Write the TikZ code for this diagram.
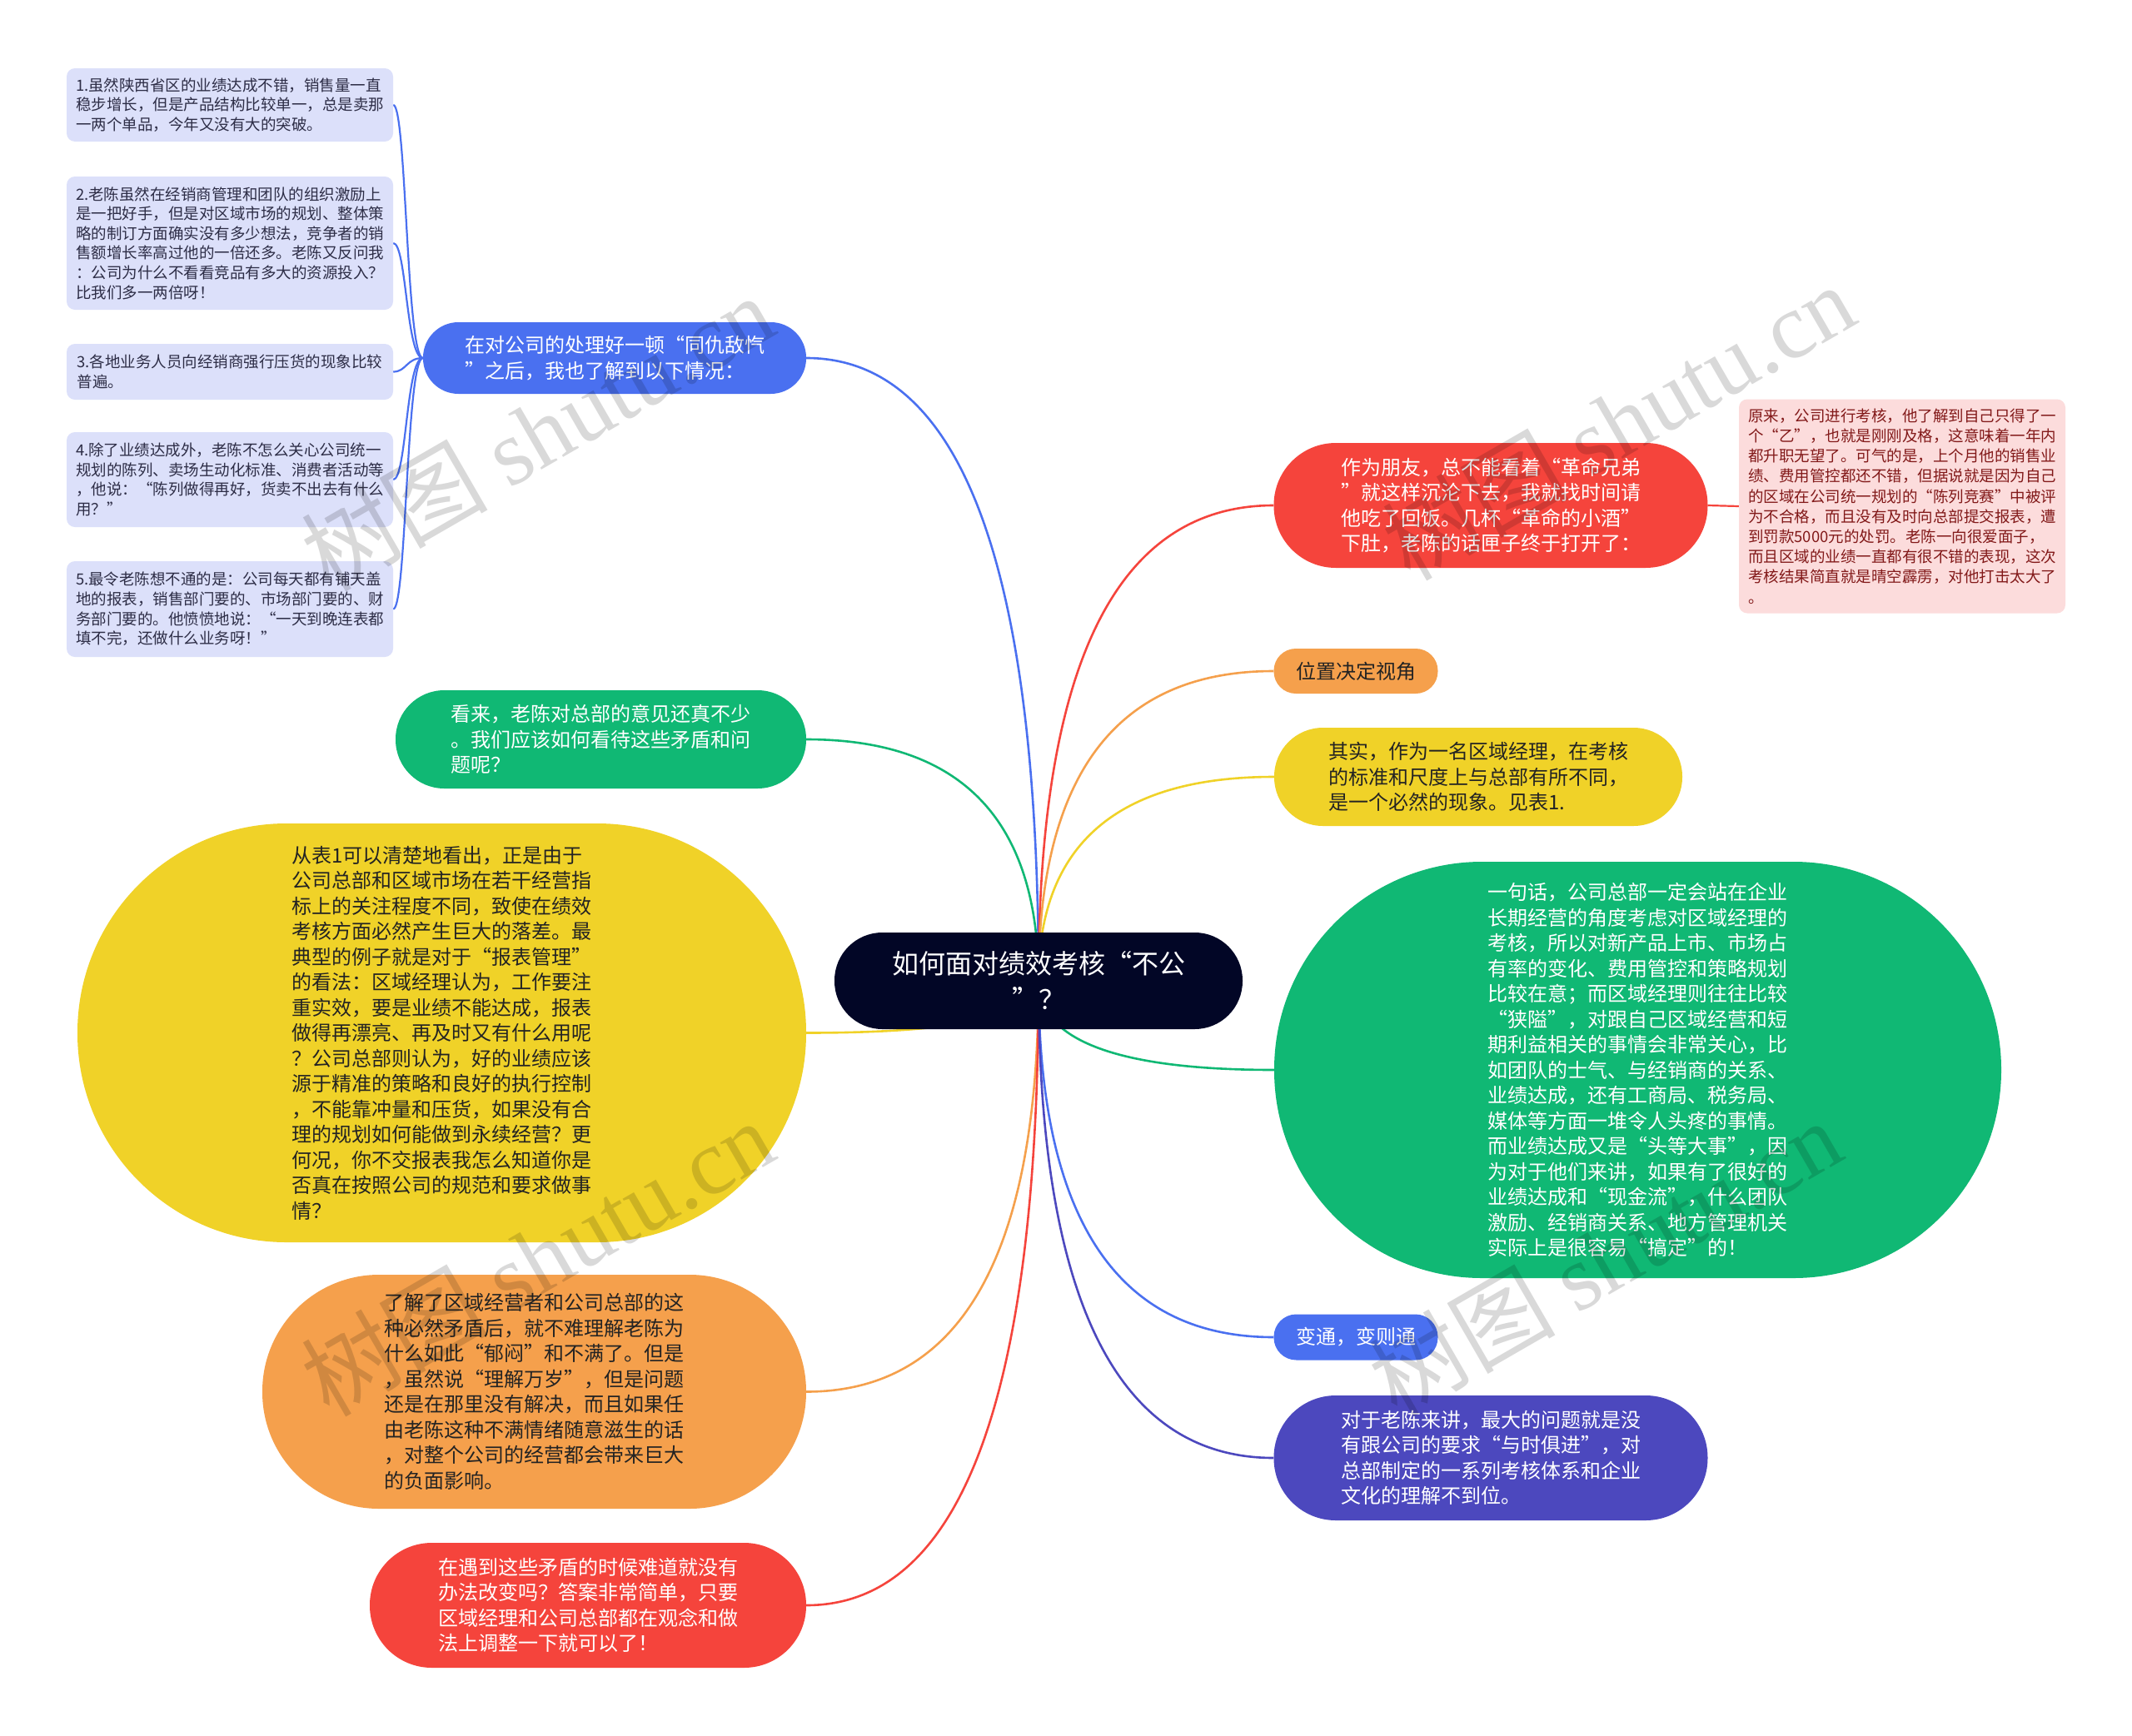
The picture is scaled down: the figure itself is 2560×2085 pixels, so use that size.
\documentclass[tikz,border=0pt]{standalone}
\usepackage{fontspec}
\setmainfont{Noto Sans CJK SC}
\newfontfamily\wmlatin{Liberation Serif}
\usetikzlibrary{calc,backgrounds}
\definecolor{cnavy}{RGB}{2,6,38}
\definecolor{cblue}{RGB}{74,112,240}
\definecolor{cred}{RGB}{245,68,60}
\definecolor{corange}{RGB}{245,160,76}
\definecolor{cyellow}{RGB}{240,210,40}
\definecolor{cgreen}{RGB}{16,184,116}
\definecolor{cindigo}{RGB}{76,72,190}
\definecolor{cleaf}{RGB}{220,224,250}
\definecolor{cleaftext}{RGB}{45,45,70}
\definecolor{cpink}{RGB}{252,220,220}
\definecolor{cpinktext}{RGB}{130,25,25}
\definecolor{cdark}{RGB}{35,35,35}
\tikzset{
  topic/.style={inner sep=0pt, align=left, font=\fontsize{24}{30.5}\selectfont},
  leafnode/.style={inner sep=0pt, align=left, rounded corners=10pt, minimum width=392pt, font=\fontsize{18.5}{23.6}\selectfont},
  conn/.style={line width=2.6pt},
  leafconn/.style={line width=2.2pt},
  wm/.style={rotate=30, text=black, text opacity=0.15, font=\fontsize{112}{112}\selectfont}
}
\begin{document}
\begin{tikzpicture}[x=1pt,y=-1pt]
\useasboundingbox (0,0) rectangle (2560,2085);
% central
\node[topic, fill=cnavy, text=white, minimum width=490pt, minimum height=116pt, rounded corners=57.5pt, align=center, font=\fontsize{32}{43}\selectfont] (c) at (1247,1178) {如何面对绩效考核“不公\\”？};
% left side
\node[topic, fill=cblue, text=white, minimum width=460pt, minimum height=86pt, rounded corners=42.5pt] (L1) at (738,430) {在对公司的处理好一顿“同仇敌忾\\”之后，我也了解到以下情况：};
\node[topic, fill=cgreen, text=white, minimum width=493pt, minimum height=118pt, rounded corners=58.5pt] (L2) at (721.5,888) {看来，老陈对总部的意见还真不少\\。我们应该如何看待这些矛盾和问\\题呢？};
\node[topic, fill=cyellow, text=cdark, minimum width=875pt, minimum height=503pt, rounded corners=251pt] (L3) at (530.5,1240.5) {从表1可以清楚地看出，正是由于\\公司总部和区域市场在若干经营指\\标上的关注程度不同，致使在绩效\\考核方面必然产生巨大的落差。最\\典型的例子就是对于“报表管理”\\的看法：区域经理认为，工作要注\\重实效，要是业绩不能达成，报表\\做得再漂亮、再及时又有什么用呢\\？公司总部则认为，好的业绩应该\\源于精准的策略和良好的执行控制\\，不能靠冲量和压货，如果没有合\\理的规划如何能做到永续经营？更\\何况，你不交报表我怎么知道你是\\否真在按照公司的规范和要求做事\\情？};
\node[topic, fill=corange, text=cdark, minimum width=653pt, minimum height=281pt, rounded corners=140pt] (L4) at (641.5,1671.5) {了解了区域经营者和公司总部的这\\种必然矛盾后，就不难理解老陈为\\什么如此“郁闷”和不满了。但是\\，虽然说“理解万岁”，但是问题\\还是在那里没有解决，而且如果任\\由老陈这种不满情绪随意滋生的话\\，对整个公司的经营都会带来巨大\\的负面影响。};
\node[topic, fill=cred, text=white, minimum width=524pt, minimum height=150pt, rounded corners=74.5pt] (L5) at (706,1928) {在遇到这些矛盾的时候难道就没有\\办法改变吗？答案非常简单，只要\\区域经理和公司总部都在观念和做\\法上调整一下就可以了！};
% leaves of L1
\node[leafnode, fill=cleaf, text=cleaftext, minimum height=88pt] (A1) at (276,126) {1.虽然陕西省区的业绩达成不错，销售量一直\\稳步增长，但是产品结构比较单一，总是卖那\\一两个单品，今年又没有大的突破。};
\node[leafnode, fill=cleaf, text=cleaftext, minimum height=160pt] (A2) at (276,292) {2.老陈虽然在经销商管理和团队的组织激励上\\是一把好手，但是对区域市场的规划、整体策\\略的制订方面确实没有多少想法，竞争者的销\\售额增长率高过他的一倍还多。老陈又反问我\\：公司为什么不看看竞品有多大的资源投入？\\比我们多一两倍呀！};
\node[leafnode, fill=cleaf, text=cleaftext, minimum height=67pt] (A3) at (276,446.5) {3.各地业务人员向经销商强行压货的现象比较\\普遍。};
\node[leafnode, fill=cleaf, text=cleaftext, minimum height=114pt] (A4) at (276,576) {4.除了业绩达成外，老陈不怎么关心公司统一\\规划的陈列、卖场生动化标准、消费者活动等\\，他说：“陈列做得再好，货卖不出去有什么\\用？”};
\node[leafnode, fill=cleaf, text=cleaftext, minimum height=115pt] (A5) at (276,731.5) {5.最令老陈想不通的是：公司每天都有铺天盖\\地的报表，销售部门要的、市场部门要的、财\\务部门要的。他愤愤地说：“一天到晚连表都\\填不完，还做什么业务呀！”};
% right side
\node[topic, fill=cred, text=white, minimum width=521pt, minimum height=150pt, rounded corners=74.5pt] (R1) at (1790,607) {作为朋友，总不能看着“革命兄弟\\”就这样沉沦下去，我就找时间请\\他吃了回饭。几杯“革命的小酒”\\下肚，老陈的话匣子终于打开了：};
\node[leafnode, fill=cpink, text=cpinktext, minimum height=257pt, font=\fontsize{18.5}{24.2}\selectfont] (P) at (2284,608) {原来，公司进行考核，他了解到自己只得了一\\个“乙”，也就是刚刚及格，这意味着一年内\\都升职无望了。可气的是，上个月他的销售业\\绩、费用管控都还不错，但据说就是因为自己\\的区域在公司统一规划的“陈列竞赛”中被评\\为不合格，而且没有及时向总部提交报表，遭\\到罚款5000元的处罚。老陈一向很爱面子，\\而且区域的业绩一直都有很不错的表现，这次\\考核结果简直就是晴空霹雳，对他打击太大了\\。};
\node[topic, fill=corange, text=cdark, minimum width=197pt, minimum height=54pt, rounded corners=26.5pt] (R2) at (1628,806) {位置决定视角};
\node[topic, fill=cyellow, text=cdark, minimum width=490pt, minimum height=118pt, rounded corners=58.5pt] (R3) at (1775,933) {其实，作为一名区域经理，在考核\\的标准和尺度上与总部有所不同，\\是一个必然的现象。见表1.};
\node[topic, fill=cgreen, text=white, minimum width=873pt, minimum height=500pt, rounded corners=249.5pt] (R4) at (1966.5,1285) {一句话，公司总部一定会站在企业\\长期经营的角度考虑对区域经理的\\考核，所以对新产品上市、市场占\\有率的变化、费用管控和策略规划\\比较在意；而区域经理则往往比较\\“狭隘”，对跟自己区域经营和短\\期利益相关的事情会非常关心，比\\如团队的士气、与经销商的关系、\\业绩达成，还有工商局、税务局、\\媒体等方面一堆令人头疼的事情。\\而业绩达成又是“头等大事”，因\\为对于他们来讲，如果有了很好的\\业绩达成和“现金流”，什么团队\\激励、经销商关系、地方管理机关\\实际上是很容易“搞定”的！};
\node[topic, fill=cblue, text=white, minimum width=197pt, minimum height=55pt, rounded corners=27pt] (R5) at (1628,1606) {变通，变则通};
\node[topic, fill=cindigo, text=white, minimum width=521pt, minimum height=150pt, rounded corners=74.5pt] (R6) at (1790,1751) {对于老陈来讲，最大的问题就是没\\有跟公司的要求“与时俱进”，对\\总部制定的一系列考核体系和企业\\文化的理解不到位。};
% connectors
\begin{pgfonlayer}{background}
\fill[white] (0,0) rectangle (2560,2085);
\foreach \nd/\an/\col in {L1/east/cblue, L2/east/cgreen, L3/east/cyellow, L4/east/corange, L5/east/cred, R1/west/cred, R2/west/corange, R3/west/cyellow, R4/west/cgreen, R5/west/cblue, R6/west/cindigo}{
  \draw[conn, draw=\col] (c.center) .. controls ($(c.center)!0.667!(c.center|-\nd.\an)$) and ($(\nd.\an)!0.667!(c.center|-\nd.\an)$) .. (\nd.\an);
}
\foreach \nd in {A1,A2,A3,A4,A5}{
  \draw[leafconn, draw=cblue] (L1.west) .. controls ($(L1.west)+(-20,0)$) and ($(\nd.east)+(16,0)$) .. (\nd.east);
}
\draw[leafconn, draw=cred] (R1.east) -- (P.west);
\end{pgfonlayer}
% watermarks
\node[wm] (W1) at (645,519) {树图 {\wmlatin shutu.cn}};
\node[wm] (W2) at (1943,506) {树图 {\wmlatin shutu.cn}};
\node[wm] (W3) at (645,1510) {树图 {\wmlatin shutu.cn}};
\node[wm] (W4) at (1927,1510) {树图 {\wmlatin shutu.cn}};
\end{tikzpicture}
\end{document}
